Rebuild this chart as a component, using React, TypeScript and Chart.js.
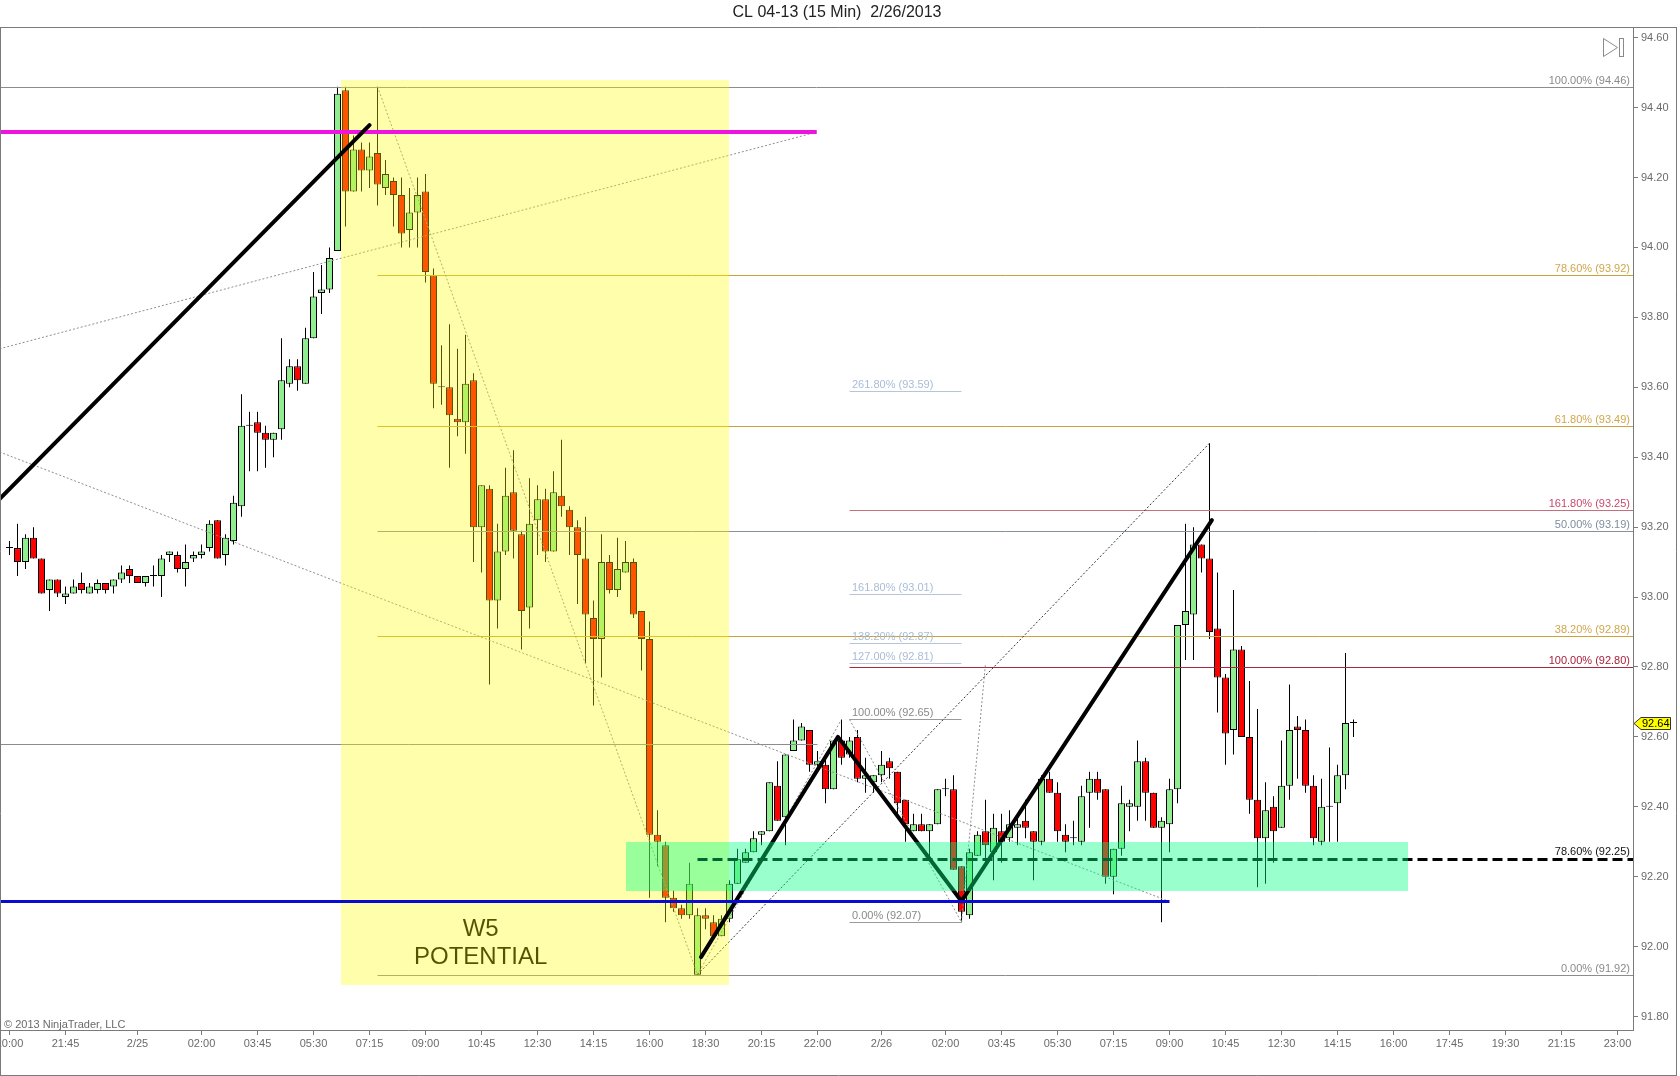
import React, { useEffect, useRef } from "react";
import { Chart, registerables } from "chart.js";

Chart.register(...registerables);

// ---------- DATA ----------
// bar index 0 = 2/25 00:00 (15-minute bars); first visible bar is 2/24 20:00
const FIRST_BAR = -16;

const opens = [
  93.14, 93.14, 93.10, 93.17, 93.11, 93.02, 93.05, 93.00, 93.01, 93.04,
  93.01, 93.02, 93.04, 93.03, 93.05, 93.08, 93.06, 93.04, 93.06, 93.06,
  93.12, 93.12, 93.08, 93.11, 93.12, 93.14, 93.22, 93.12, 93.16, 93.26,
  93.49, 93.50, 93.47, 93.45, 93.48, 93.61, 93.66, 93.61, 93.74, 93.87,
  93.88, 93.99, 94.45, 94.16, 94.28, 94.22, 94.27, 94.17, 94.19, 94.15,
  94.05, 94.10, 94.16, 93.92, 93.60, 93.60, 93.51, 93.50, 93.62, 93.20,
  93.31, 92.99, 93.13, 93.30, 93.18, 92.97, 93.22, 93.28, 93.13, 93.29,
  93.25, 93.20, 93.11, 92.94, 92.88, 93.10, 93.02, 93.07, 93.10, 92.96,
  92.88, 92.32, 92.29, 92.14, 92.11, 92.09, 91.92, 92.09, 92.07, 92.03,
  92.08, 92.18, 92.24, 92.27, 92.32, 92.33, 92.46, 92.37, 92.56, 92.59,
  92.62, 92.52, 92.52, 92.45, 92.59, 92.55, 92.60, 92.48, 92.47, 92.49,
  92.53, 92.50, 92.42, 92.33, 92.35, 92.33, 92.35, 92.45, 92.45, 92.23,
  92.09, 92.26, 92.33, 92.27, 92.33, 92.31, 92.34, 92.36, 92.33, 92.30,
  92.48, 92.44, 92.32, 92.31, 92.30, 92.44, 92.48, 92.45, 92.20, 92.28,
  92.40, 92.40, 92.53, 92.44, 92.34, 92.35, 92.45, 92.92, 92.95, 93.15,
  93.11, 92.91, 92.77, 92.62, 92.85, 92.60, 92.42, 92.31, 92.40, 92.34,
  92.46, 92.63, 92.62, 92.46, 92.30, 92.40, 92.41, 92.49, 92.64,
];
const highs = [
  93.16, 93.21, 93.18, 93.20, 93.11, 93.05, 93.05, 93.03, 93.05, 93.07,
  93.04, 93.05, 93.04, 93.05, 93.09, 93.09, 93.06, 93.06, 93.09, 93.12,
  93.13, 93.13, 93.15, 93.13, 93.15, 93.22, 93.22, 93.18, 93.29, 93.58,
  93.53, 93.53, 93.49, 93.47, 93.74, 93.68, 93.68, 93.77, 93.93, 93.95,
  94.00, 94.46, 94.46, 94.32, 94.30, 94.30, 94.46, 94.25, 94.20, 94.20,
  94.17, 94.20, 94.21, 93.94, 93.72, 93.78, 93.71, 93.75, 93.64, 93.32,
  93.32, 93.21, 93.37, 93.42, 93.19, 93.34, 93.32, 93.31, 93.36, 93.45,
  93.26, 93.22, 93.23, 92.99, 93.18, 93.12, 93.17, 93.16, 93.11, 92.96,
  92.93, 92.39, 92.30, 92.16, 92.12, 92.24, 92.11, 92.11, 92.09, 92.09,
  92.19, 92.28, 92.28, 92.33, 92.33, 92.47, 92.53, 92.55, 92.65, 92.64,
  92.62, 92.56, 92.54, 92.59, 92.65, 92.60, 92.62, 92.54, 92.49, 92.56,
  92.54, 92.50, 92.42, 92.38, 92.38, 92.35, 92.45, 92.48, 92.49, 92.23,
  92.28, 92.33, 92.42, 92.38, 92.38, 92.39, 92.37, 92.42, 92.33, 92.49,
  92.50, 92.47, 92.35, 92.36, 92.46, 92.50, 92.50, 92.45, 92.28, 92.46,
  92.42, 92.59, 92.54, 92.44, 92.37, 92.48, 92.92, 93.21, 93.20, 93.15,
  93.44, 93.07, 92.78, 93.02, 92.86, 92.76, 92.68, 92.47, 92.43, 92.59,
  92.75, 92.66, 92.65, 92.49, 92.48, 92.57, 92.52, 92.84, 92.65,
];
const lows = [
  93.12, 93.06, 93.08, 93.11, 93.01, 92.96, 93.00, 92.98, 93.01, 93.01,
  93.01, 93.01, 93.01, 93.01, 93.04, 93.04, 93.04, 93.03, 93.03, 93.00,
  93.10, 93.07, 93.03, 93.10, 93.11, 93.13, 93.11, 93.09, 93.15, 93.23,
  93.36, 93.36, 93.37, 93.40, 93.45, 93.60, 93.59, 93.61, 93.74, 93.81,
  93.87, 93.99, 94.06, 94.16, 94.16, 94.17, 94.12, 94.15, 94.06, 94.00,
  94.00, 94.00, 93.90, 93.54, 93.55, 93.37, 93.46, 93.41, 93.10, 93.07,
  92.75, 92.91, 93.12, 93.11, 92.85, 92.91, 93.12, 93.10, 93.13, 93.23,
  93.12, 92.98, 92.81, 92.69, 92.77, 93.01, 93.00, 93.07, 92.94, 92.79,
  92.14, 92.23, 92.07, 92.10, 92.08, 92.08, 91.92, 92.05, 92.03, 92.03,
  92.07, 92.18, 92.24, 92.27, 92.29, 92.33, 92.36, 92.29, 92.56, 92.59,
  92.50, 92.51, 92.41, 92.45, 92.52, 92.54, 92.47, 92.44, 92.44, 92.47,
  92.48, 92.38, 92.30, 92.33, 92.33, 92.25, 92.35, 92.43, 92.22, 92.07,
  92.08, 92.26, 92.24, 92.19, 92.24, 92.30, 92.29, 92.31, 92.19, 92.29,
  92.44, 92.30, 92.27, 92.29, 92.29, 92.34, 92.42, 92.18, 92.15, 92.26,
  92.33, 92.36, 92.36, 92.34, 92.07, 92.27, 92.41, 92.82, 92.82, 93.07,
  92.88, 92.67, 92.52, 92.55, 92.60, 92.38, 92.17, 92.18, 92.24, 92.34,
  92.42, 92.48, 92.44, 92.29, 92.29, 92.30, 92.30, 92.45, 92.60,
];
const closes = [
  93.14, 93.10, 93.17, 93.11, 93.01, 93.05, 93.01, 93.01, 93.03, 93.02,
  93.03, 93.04, 93.02, 93.05, 93.07, 93.06, 93.04, 93.06, 93.06, 93.11,
  93.13, 93.08, 93.10, 93.12, 93.13, 93.21, 93.11, 93.17, 93.27, 93.49,
  93.49, 93.47, 93.45, 93.47, 93.62, 93.66, 93.62, 93.74, 93.86, 93.88,
  93.97, 94.44, 94.16, 94.28, 94.22, 94.26, 94.18, 94.21, 94.15, 94.04,
  94.10, 94.15, 93.93, 93.61, 93.60, 93.52, 93.50, 93.61, 93.20, 93.32,
  92.99, 93.13, 93.29, 93.19, 92.96, 93.21, 93.28, 93.13, 93.30, 93.26,
  93.20, 93.12, 92.95, 92.88, 93.10, 93.02, 93.08, 93.10, 92.95, 92.88,
  92.32, 92.30, 92.14, 92.11, 92.09, 92.18, 92.09, 92.08, 92.03, 92.08,
  92.18, 92.25, 92.27, 92.31, 92.33, 92.47, 92.36, 92.55, 92.59, 92.63,
  92.52, 92.53, 92.45, 92.59, 92.54, 92.59, 92.48, 92.49, 92.49, 92.52,
  92.51, 92.41, 92.35, 92.35, 92.33, 92.35, 92.45, 92.45, 92.22, 92.10,
  92.27, 92.32, 92.29, 92.34, 92.30, 92.35, 92.35, 92.34, 92.30, 92.48,
  92.44, 92.33, 92.30, 92.31, 92.43, 92.48, 92.44, 92.20, 92.28, 92.41,
  92.41, 92.53, 92.44, 92.34, 92.36, 92.45, 92.92, 92.96, 93.15, 93.11,
  92.90, 92.77, 92.61, 92.85, 92.60, 92.42, 92.31, 92.39, 92.33, 92.46,
  92.62, 92.62, 92.46, 92.31, 92.40, 92.40, 92.49, 92.64, 92.64,
];

const timeTickBars = [-16, -9, 0, 8, 15, 22, 29, 36, 43, 50, 57, 64, 71, 78, 85, 93, 101, 108, 115, 122, 129, 136, 143, 150, 157, 164, 171, 178, 185];
const timeTickLabels = ["20:00", "21:45", "2/25", "02:00", "03:45", "05:30", "07:15", "09:00", "10:45", "12:30", "14:15", "16:00", "18:30", "20:15", "22:00", "2/26", "02:00", "03:45", "05:30", "07:15", "09:00", "10:45", "12:30", "14:15", "16:00", "17:45", "19:30", "21:15", "23:00"];
const priceTicks = [91.8, 92.0, 92.2, 92.4, 92.6, 92.8, 93.0, 93.2, 93.4, 93.6, 93.8, 94.0, 94.2, 94.4, 94.6];

// Fibonacci retracement 94.46 (bar 30) -> 91.92 (bar 70)
const fibMainPct = ["100.00%", "78.60%", "61.80%", "50.00%", "38.20%", "0.00%"];
const fibMainPrice = [94.46, 93.92, 93.49, 93.19, 92.89, 91.92];
const fibMainFrom = [-18, 30, 30, 30, 30, 30];
// Fibonacci extension (A 91.92, B 92.65, C 92.07)
const fibExtPct = ["161.80%", "100.00%"];
const fibExtPrice = [93.25, 92.80];
const fibExtFrom = 89;
// Retracement on the 92.65 -> 92.07 swing
const fibSwingPct = ["261.80%", "161.80%", "138.20%", "127.00%", "100.00%", "0.00%"];
const fibSwingPrice = [93.59, 93.01, 92.87, 92.81, 92.65, 92.07];
const fibSwingBars = [89, 103];

const magentaLevel = 94.33;
const magentaEndBar = 84.9;
const greyLevel = 92.58;
const greyEndBar = 85;
const blueLevel = 92.13;
const blueEndBar = 129;
const dashedLevel = 92.25;
const dashedStartBar = 70;
const dashedLabel = "78.60% (92.25)";

const highlightBars = [25.4, 73.9];
const highlightPrices = [94.48, 91.89];
const zoneBars = [61, 158.75];
const zonePrices = [92.30, 92.16];

const waveLegA = [[-17.25, 93.28], [29, 94.35]];
const waveLegB = [[70.44, 91.97], [87.56, 92.60], [103, 92.13], [134.3, 93.22]];

const dottedGrey = [
  [-17.25, 93.71, 84.9, 94.33],
  [-17.25, 93.415, 128.9, 92.13],
  [30, 94.46, 70, 91.92],
  [70, 91.92, 88, 92.65],
  [89, 92.65, 103, 92.07],
  [103, 92.07, 106, 92.81],
];
const dottedDark = [[70, 91.92, 134, 93.44]];

const waveText = ["W5", "POTENTIAL"];
const waveTextBar = 42.9;
const waveTextPrice = [92.05, 91.97];

const titleText = "CL 04-13 (15 Min)  2/26/2013";
const copyrightText = "\u00A9 2013 NinjaTrader, LLC";

// ---------- LAYOUT ----------
const X_MIN = -17.1875;
const X_MAX = X_MIN + 1633 / 8;
const Y_MAX = 94.6306;
const Y_MIN = Y_MAX - 1003 / 349.6;
const FONT = "'Liberation Sans', Arial, sans-serif";

const barX = opens.map((_, i) => FIRST_BAR + i);

function overlayDraw(chart: any) {
  const { ctx, chartArea: a, scales } = chart;
  const X = (v: number) => scales.x.getPixelForValue(v);
  const Y = (v: number) => scales.y.getPixelForValue(v);
  const HY = (p: number) => Math.round(Y(p)) + 0.5;

  ctx.save();
  ctx.beginPath();
  ctx.rect(a.left, a.top, a.right - a.left, a.bottom - a.top);
  ctx.clip();

  const hline = (p: number, b1: number, b2: number, color: string, w = 1, dash: number[] = []) => {
    ctx.beginPath();
    ctx.setLineDash(dash);
    ctx.strokeStyle = color;
    ctx.lineWidth = w;
    const y = w % 2 === 1 ? HY(p) : Math.round(Y(p));
    ctx.moveTo(X(b1), y);
    ctx.lineTo(X(b2), y);
    ctx.stroke();
    ctx.setLineDash([]);
  };
  const seg = (s: number[], color: string, dash: number[]) => {
    ctx.beginPath();
    ctx.setLineDash(dash);
    ctx.strokeStyle = color;
    ctx.lineWidth = 1;
    ctx.moveTo(X(s[0]), Y(s[1]));
    ctx.lineTo(X(s[2]), Y(s[3]));
    ctx.stroke();
    ctx.setLineDash([]);
  };

  // fib level lines
  const mainLineCol = ["#8c8c8c", "#c9a23a", "#c9a23a", "#88909c", "#c9a23a", "#8c8c8c"];
  fibMainPrice.forEach((p, i) => hline(p, fibMainFrom[i], X_MAX + 2, mainLineCol[i]));
  const extLineCol = ["#c66d80", "#a8283c"];
  fibExtPrice.forEach((p, i) => hline(p, fibExtFrom, X_MAX + 2, extLineCol[i]));
  const swingLineCol = ["#b4c6de", "#b4c6de", "#b4c6de", "#b4c6de", "#9a9a9a", "#9a9a9a"];
  fibSwingPrice.forEach((p, i) => hline(p, fibSwingBars[0], fibSwingBars[1], swingLineCol[i]));
  hline(greyLevel, X_MIN - 2, greyEndBar, "#8c8c8c");

  // thin connecting lines
  dottedGrey.forEach((s) => seg(s, "#8e8e8e", [2, 2]));
  dottedDark.forEach((s) => seg(s, "#2a3a2a", [2, 2]));

  // W5 text
  ctx.fillStyle = "#000";
  ctx.font = `24px ${FONT}`;
  ctx.textAlign = "center";
  ctx.textBaseline = "middle";
  waveText.forEach((t, i) => ctx.fillText(t, X(waveTextBar), Y(waveTextPrice[i])));

  // yellow highlight
  ctx.fillStyle = "rgba(255,255,0,0.33)";
  {
    const x1 = Math.round(X(highlightBars[0])), x2 = Math.round(X(highlightBars[1]));
    const y1 = Math.round(Y(highlightPrices[0])), y2 = Math.round(Y(highlightPrices[1]));
    ctx.fillRect(x1, y1, x2 - x1, y2 - y1);
  }

  // magenta line
  hline(magentaLevel, X_MIN - 2, magentaEndBar, "#f012e0", 4);

  // thick wave legs
  const poly = (pts: number[][]) => {
    ctx.beginPath();
    ctx.strokeStyle = "#000";
    ctx.lineWidth = 4;
    ctx.lineJoin = "round";
    ctx.lineCap = "round";
    pts.forEach((pt, i) => (i === 0 ? ctx.moveTo(X(pt[0]), Y(pt[1])) : ctx.lineTo(X(pt[0]), Y(pt[1]))));
    ctx.stroke();
  };
  poly(waveLegA);
  poly(waveLegB);
  ctx.lineCap = "butt";

  // dashed 78.6% line
  hline(dashedLevel, dashedStartBar, X_MAX + 2, "#000", 3, [10, 5]);
  // blue line
  hline(blueLevel, X_MIN - 2, blueEndBar, "#0a0ad2", 3);

  // green zone
  ctx.fillStyle = "rgba(0,255,127,0.4)";
  {
    const x1 = Math.round(X(zoneBars[0])), x2 = Math.round(X(zoneBars[1]));
    const y1 = Math.round(Y(zonePrices[0])), y2 = Math.round(Y(zonePrices[1]));
    ctx.fillRect(x1, y1, x2 - x1, y2 - y1);
  }

  // labels
  ctx.font = `11px ${FONT}`;
  ctx.textBaseline = "alphabetic";
  ctx.textAlign = "right";
  const mainTxtCol = ["#8a8a8a", "#d0a64c", "#d0a64c", "#7f8d9e", "#d0a64c", "#8a8a8a"];
  fibMainPrice.forEach((p, i) => {
    ctx.fillStyle = mainTxtCol[i];
    ctx.fillText(`${fibMainPct[i]} (${p.toFixed(2)})`, a.right - 3, HY(p) - 3.5);
  });
  const extTxtCol = ["#c8496a", "#a8203a"];
  fibExtPrice.forEach((p, i) => {
    ctx.fillStyle = extTxtCol[i];
    ctx.fillText(`${fibExtPct[i]} (${p.toFixed(2)})`, a.right - 3, HY(p) - 3.5);
  });
  ctx.fillStyle = "#111";
  ctx.fillText(dashedLabel, a.right - 3, HY(dashedLevel) - 4.5);
  ctx.textAlign = "left";
  const swingTxtCol = ["#a9bcd6", "#a9bcd6", "#a9bcd6", "#a9bcd6", "#8a8a8a", "#8a8a8a"];
  fibSwingPrice.forEach((p, i) => {
    ctx.fillStyle = swingTxtCol[i];
    ctx.fillText(`${fibSwingPct[i]} (${p.toFixed(2)})`, X(fibSwingBars[0]) + 2.5, HY(p) - 3.5);
  });

  ctx.restore();
}

function frameDraw(chart: any) {
  const { ctx, chartArea: a, scales } = chart;
  ctx.save();
  ctx.strokeStyle = "#7a7a7a";
  ctx.lineWidth = 1;
  ctx.beginPath();
  ctx.moveTo(0, 27.5); ctx.lineTo(1676.5, 27.5);
  ctx.moveTo(0.5, 27); ctx.lineTo(0.5, 1075.5);
  ctx.moveTo(1676.5, 27); ctx.lineTo(1676.5, 1075.5);
  ctx.moveTo(0, 1075.5); ctx.lineTo(1677, 1075.5);
  ctx.stroke();

  // title
  ctx.fillStyle = "#222";
  ctx.font = `16px ${FONT}`;
  ctx.textAlign = "center";
  ctx.textBaseline = "middle";
  ctx.fillText(titleText, 837, 13);

  // copyright
  ctx.fillStyle = "#6a6a6a";
  ctx.font = `11px ${FONT}`;
  ctx.textAlign = "left";
  ctx.textBaseline = "alphabetic";
  ctx.fillText(copyrightText, 4, 1028);

  // go-to-end icon
  ctx.strokeStyle = "#8a8a8a";
  ctx.beginPath();
  ctx.moveTo(1603.5, 38.5); ctx.lineTo(1603.5, 56.5); ctx.lineTo(1617.5, 47.5); ctx.closePath();
  ctx.stroke();
  ctx.strokeRect(1619.5, 38.5, 4, 18);

  // last price marker
  const last = closes[closes.length - 1];
  const y = Math.round(scales.y.getPixelForValue(last)) + 0.5;
  const xl = a.right + 1;
  ctx.beginPath();
  ctx.moveTo(xl, y);
  ctx.lineTo(xl + 7, y - 6);
  ctx.lineTo(1670.5, y - 6);
  ctx.lineTo(1670.5, y + 6);
  ctx.lineTo(xl + 7, y + 6);
  ctx.closePath();
  ctx.fillStyle = "#ffff00";
  ctx.fill();
  ctx.strokeStyle = "#333";
  ctx.stroke();
  ctx.fillStyle = "#000";
  ctx.font = `11px ${FONT}`;
  ctx.textBaseline = "middle";
  ctx.fillText(last.toFixed(2), xl + 8, y + 0.5);
  ctx.restore();
}

export default function App() {
  const ref = useRef<HTMLCanvasElement>(null);
  useEffect(() => {
    document.body.style.margin = "0";
    const bodies = barX.map((x, i) => ({ x, y: [opens[i], closes[i]] }));
    const wicks = barX.map((x, i) => ({ x, y: [lows[i], highs[i]] }));
    const bodyColors = barX.map((_, i) => (closes[i] >= opens[i] ? "#90ee90" : "#ff0000"));

    const chart = new Chart(ref.current as HTMLCanvasElement, {
      type: "bar",
      data: {
        datasets: [
          {
            label: "body",
            data: bodies as any,
            backgroundColor: bodyColors,
            borderColor: "#000",
            borderWidth: 1,
            borderSkipped: false,
            barThickness: 7,
            minBarLength: 1,
            inflateAmount: 0,
            grouped: false,
            order: 0,
          } as any,
          {
            label: "wick",
            data: wicks as any,
            backgroundColor: "#000",
            borderWidth: 0,
            barThickness: 1,
            minBarLength: 1,
            inflateAmount: 0,
            grouped: false,
            order: 1,
          } as any,
        ],
      },
      options: {
        animation: false,
        responsive: false,
        devicePixelRatio: 1,
        events: [],
        layout: { padding: { top: 27, left: 0, right: 0, bottom: 0 } },
        plugins: { legend: { display: false }, tooltip: { enabled: false }, title: { display: false } },
        scales: {
          x: {
            type: "linear",
            position: "bottom",
            min: X_MIN,
            max: X_MAX,
            offset: false,
            grid: { display: true, drawOnChartArea: false, drawTicks: true, tickLength: 5, color: "#7a7a7a", offset: false },
            border: { display: true, color: "#7a7a7a", width: 1 },
            ticks: {
              autoSkip: false,
              maxRotation: 0,
              minRotation: 0,
              padding: 2,
              color: "#6a6a6a",
              font: { size: 11, family: FONT },
              callback: (v: any) => {
                const k = timeTickBars.indexOf(Number(v));
                return k >= 0 ? timeTickLabels[k] : "";
              },
            },
            afterBuildTicks: (s: any) => {
              s.ticks = timeTickBars.map((value) => ({ value }));
            },
            afterFit: (s: any) => {
              s.height = 46;
              s.paddingLeft = 0;
              s.paddingRight = 0;
            },
          } as any,
          y: {
            type: "linear",
            position: "right",
            min: Y_MIN,
            max: Y_MAX,
            grid: { display: true, drawOnChartArea: false, drawTicks: true, tickLength: 5, color: "#7a7a7a" },
            border: { display: true, color: "#7a7a7a", width: 1 },
            ticks: {
              autoSkip: false,
              padding: 3,
              color: "#6a6a6a",
              font: { size: 11, family: FONT },
              callback: (v: any) => Number(v).toFixed(2),
            },
            afterBuildTicks: (s: any) => {
              s.ticks = priceTicks.map((value) => ({ value }));
            },
            afterFit: (s: any) => {
              s.width = 47;
              s.paddingTop = 0;
              s.paddingBottom = 0;
            },
          } as any,
        },
      },
      plugins: [
        { id: "overlays", afterDatasetsDraw: (c: any) => overlayDraw(c) },
        { id: "frame", afterDraw: (c: any) => frameDraw(c) },
      ],
    } as any);
    return () => chart.destroy();
  }, []);

  return (
    <div style={{ position: "fixed", left: 0, top: 0, width: 1680, height: 1076, background: "#fff" }}>
      <canvas ref={ref} width={1680} height={1076} style={{ display: "block", width: 1680, height: 1076 }} />
    </div>
  );
}
